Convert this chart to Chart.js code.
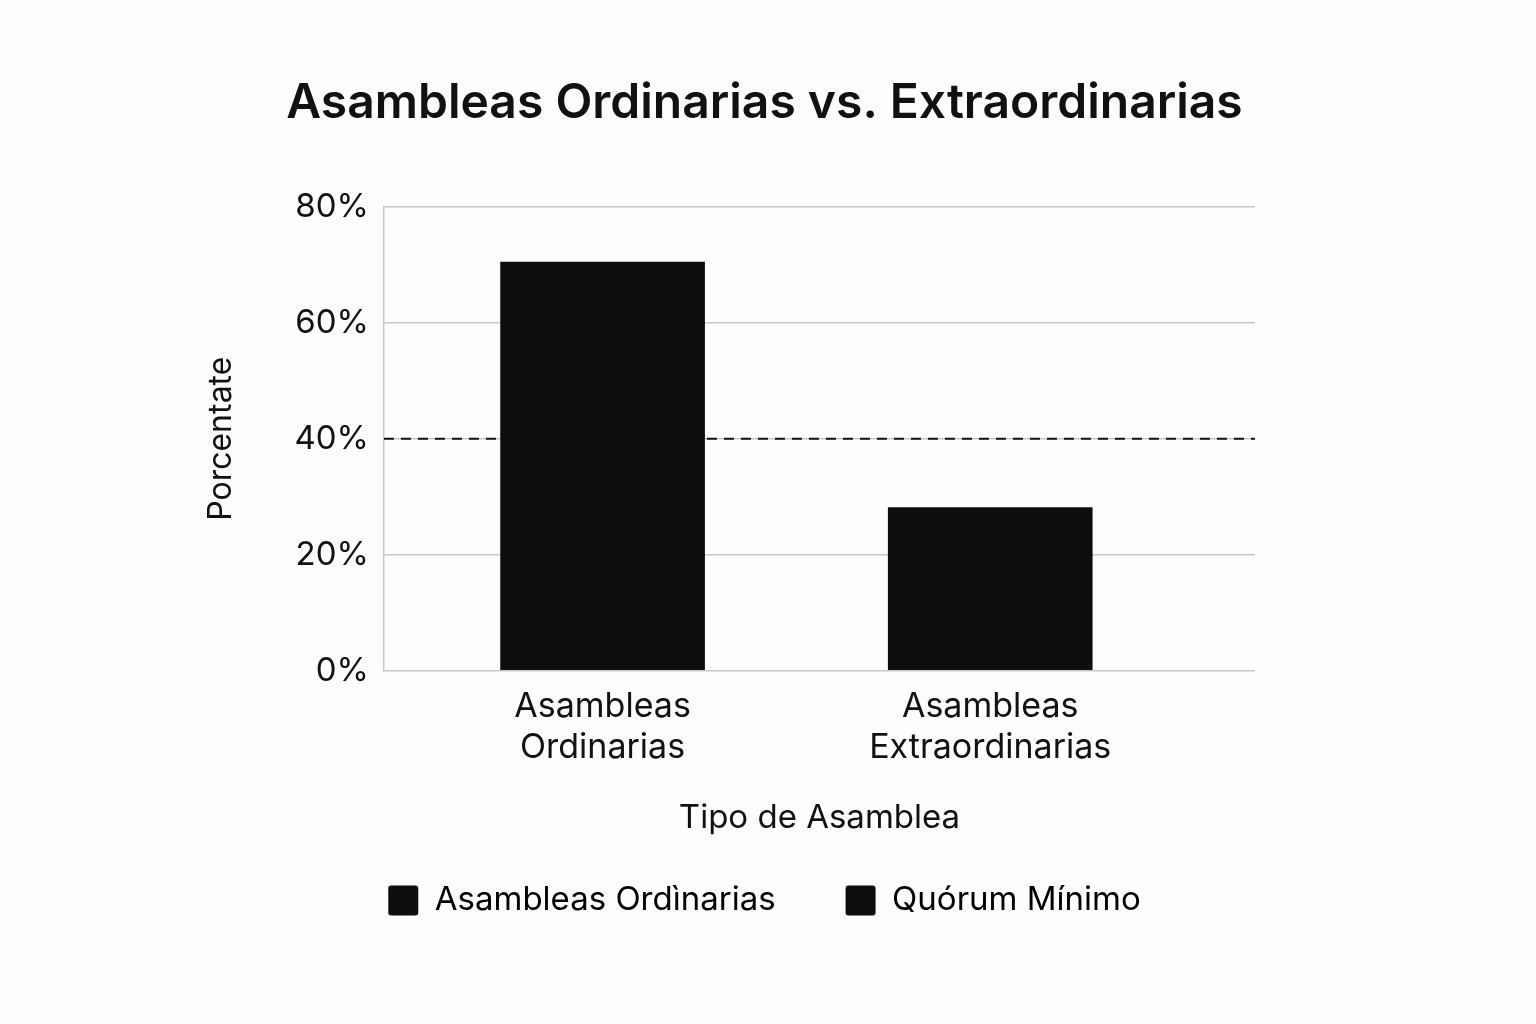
<!DOCTYPE html>
<html>
<head>
<meta charset="utf-8">
<script src="https://cdn.jsdelivr.net/npm/chart.js@4.4.0/dist/chart.umd.min.js"></script>
<style>
  html, body { margin: 0; padding: 0; background: #fdfdfd; }
  #wrap { width: 1536px; height: 1024px; }
</style>
</head>
<body>
<div id="wrap"><canvas id="chart"></canvas></div>
<script>
// DATA
const categories = [["Asambleas", "Ordinarias"], ["Asambleas", "Extraordinarias"]];
const porcentajes = [70.5, 28.2];
const quorumMinimo = 40;
const yTicks = [0, 20, 40, 60, 80];
const legendNames = ["Asambleas Ordìnarias", "Quórum Mínimo"];

const black = "#0d0d0d";
const fontFam = "Inter, 'Noto Sans', sans-serif";

// bars sit at index positions 0, 1 on a linear x axis (plot is not symmetric)
const barPoints = porcentajes.map((v, i) => ({ x: i, y: v }));

new Chart(document.getElementById("chart"), {
    type: "bar",
    data: {
        datasets: [
            {
                label: legendNames[0],
                data: barPoints,
                backgroundColor: black,
                grouped: false,
                categoryPercentage: 1,
                barPercentage: 0.528,
                order: 0
            },
            {
                // dashed quorum line, spans the whole plot on its own hidden axis
                type: "line",
                label: legendNames[1],
                data: [{ x: 0, y: quorumMinimo }, { x: 1, y: quorumMinimo }],
                xAxisID: "xq",
                borderColor: "#111",
                borderWidth: 2,
                borderDash: [10, 7],
                pointRadius: 0,
                fill: false,
                order: 1
            }
        ]
    },
    options: {
        responsive: true,
        maintainAspectRatio: false,
        animation: false,
        layout: { padding: { left: 199, right: 206, top: 75, bottom: 97 } },
        plugins: {
            title: {
                display: true,
                text: "Asambleas Ordinarias vs. Extraordinarias",
                color: "#111",
                font: { family: fontFam, size: 48, weight: "600" },
                padding: { top: 0, bottom: 74 }
            },
            legend: {
                position: "bottom",
                labels: {
                    color: "#111",
                    font: { family: fontFam, size: 33 },
                    boxWidth: 30,
                    boxHeight: 30,
                    padding: 70,
                    useBorderRadius: true,
                    borderRadius: 3,
                    generateLabels: () => legendNames.map((n, i) => ({
                        text: n,
                        fillStyle: black,
                        strokeStyle: black,
                        lineWidth: 0,
                        datasetIndex: i,
                        borderRadius: 3
                    }))
                }
            },
            tooltip: { enabled: false }
        },
        scales: {
            x: {
                type: "linear",
                min: -0.564,
                max: 1.683,
                offset: false,
                afterBuildTicks: axis => { axis.ticks = categories.map((c, i) => ({ value: i })); },
                grid: { display: false },
                border: { display: false },
                ticks: {
                    color: "#111",
                    font: { family: fontFam, size: 34 },
                    padding: 8,
                    autoSkip: false,
                    maxRotation: 0,
                    callback: v => categories[v]
                },
                title: {
                    display: true,
                    text: "Tipo de Asamblea",
                    color: "#111",
                    font: { family: fontFam, size: 33 },
                    padding: { top: 22, bottom: -24 }
                }
            },
            xq: {
                type: "linear",
                min: 0,
                max: 1,
                offset: false,
                display: false
            },
            y: {
                min: 0,
                max: 80,
                afterBuildTicks: axis => { axis.ticks = yTicks.map(v => ({ value: v })); },
                grid: { color: "#c8c8c8", lineWidth: 1.5, drawTicks: false },
                border: { display: true, color: "#c8c8c8", width: 1.5 },
                ticks: {
                    color: "#111",
                    font: { family: fontFam, size: 33 },
                    padding: 15,
                    callback: v => v + "%"
                },
                title: {
                    display: true,
                    text: "Porcentate",
                    color: "#111",
                    font: { family: fontFam, size: 32 },
                    padding: { top: 3, bottom: 39 }
                }
            },
            // empty right-hand axis, keeps the title and legend centred on the page
            yPad: {
                position: "right",
                display: true,
                grid: { display: false },
                border: { display: false },
                ticks: { display: false },
                afterFit: axis => { axis.width = 75; }
            }
        }
    }
});
</script>
</body>
</html>
